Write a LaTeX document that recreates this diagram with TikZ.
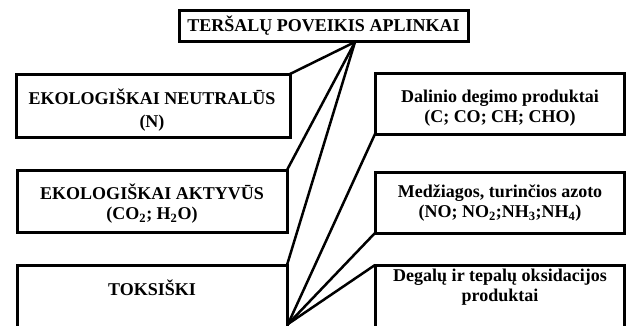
\documentclass[tikz,border=0pt]{standalone}
\usepackage{fontspec}
\setmainfont{Liberation Serif}
\begin{document}
\begin{tikzpicture}[x=1pt,y=-1pt,
  box/.style={draw, line width=3pt, rectangle, outer sep=0pt, inner sep=0pt, anchor=north west},
  txt/.style={align=center, inner sep=0pt, font=\bfseries\fontsize{18}{20}\selectfont},
  link/.style={line width=2.5pt, line cap=round}]
\clip (0,0) rectangle (627,325);
\fill[white] (0,0) rectangle (627,325);
% boxes
\node[box, minimum width=289pt, minimum height=30.5pt] (title) at (179,10.5) {};
\node[box, minimum width=274pt, minimum height=63pt] (n1) at (16,74) {};
\node[box, minimum width=270pt, minimum height=62pt] (n2) at (17,170) {};
\node[box, minimum width=270pt, minimum height=75pt] (n3) at (17,265) {};
\node[box, minimum width=249pt, minimum height=61pt] (r1) at (375,73) {};
\node[box, minimum width=249pt, minimum height=61pt] (r2) at (375,172) {};
\node[box, minimum width=249pt, minimum height=75pt] (r3) at (375,265) {};
% texts
\node[txt] (t0) at (323.5,26) {TERŠALŲ POVEIKIS APLINKAI};
\node[txt] (t1) at (152,110) {EKOLOGIŠKAI NEUTRALŪS\\[3pt](N)};
\node[txt] (t2) at (152,204) {EKOLOGIŠKAI AKTYVŪS\\(CO\textsubscript{2}; H\textsubscript{2}O)};
\node[txt] (t3) at (152,288) {TOKSIŠKI};
\node[txt] (t5) at (500,108) {Dalinio degimo produktai\\(C; CO; CH; CHO)};
\node[txt] (t6) at (500,203) {Medžiagos, turinčios azoto\\(NO; NO\textsubscript{2};NH\textsubscript{3};NH\textsubscript{4})};
\node[txt] (t4) at (500,287.5) {Degalų ir tepalų oksidacijos\\produktai};
% connectors
\coordinate (topapex) at (355,42);
\coordinate (botapex) at (288,324);
\draw[link] (topapex) -- (n1.north east);
\draw[link] (topapex) -- (n2.north east);
\draw[link] (topapex) -- (n3.north east);
\draw[link] (botapex) -- (r1.south west);
\draw[link] (botapex) -- (r2.south west);
\draw[link] (botapex) -- (r3.north west);
\end{tikzpicture}
\end{document}
